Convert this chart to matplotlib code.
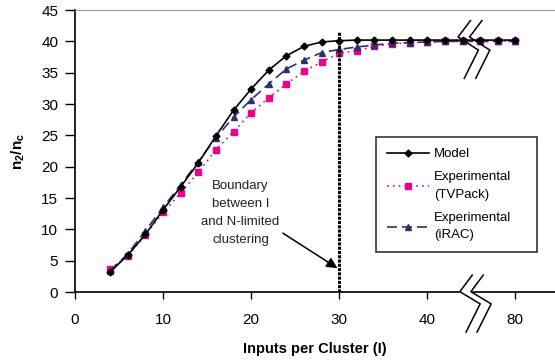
import numpy as np
import matplotlib
matplotlib.use("Agg")
import matplotlib.pyplot as plt

plt.rcParams["font.family"] = ["Liberation Sans", "DejaVu Sans"]
plt.rcParams["mathtext.default"] = "regular"

# data (inputs per cluster, n2/nc)
inputs = [4, 6, 8, 10, 12, 14, 16, 18, 20, 22, 24, 26, 28, 30, 32, 34, 36, 38, 40, 42, 44, 76, 78, 80]
model = [3.2, 5.9, 9.2, 13.1, 16.8, 20.6, 24.9, 29.0, 32.4, 35.4, 37.7, 39.2, 39.9, 40.1,
         40.2, 40.2, 40.2, 40.2, 40.2, 40.2, 40.2, 40.2, 40.2, 40.2]
tvpack = [3.6, 5.8, 9.1, 12.7, 15.8, 19.1, 22.7, 25.6, 28.6, 31.0, 33.2, 35.2, 36.7, 38.1,
          38.5, 39.2, 39.6, 39.8, 39.9, 40.0, 40.0, 40.0, 40.0, 40.0]
irac = [3.4, 6.1, 9.8, 13.5, 17.1, 20.8, 24.6, 27.9, 30.7, 33.2, 35.6, 37.0, 38.2, 38.7,
        39.1, 39.4, 39.7, 39.8, 39.9, 40.0, 40.0, 40.0, 40.0, 40.0]
xtick_labels = ["0", "10", "20", "30", "40", "80"]
xtick_values = [0, 10, 20, 30, 40, 80]

# broken axis: everything above the gap is shifted left by 30
GAP = 30
def squash(v):
    v = np.asarray(v, dtype=float)
    return np.where(v > 60, v - GAP, v)

xs = squash(inputs)

fig = plt.figure(figsize=(5.55, 3.63), dpi=100)
ax = fig.add_axes([75 / 555, 71 / 363, 480 / 555, 282 / 363])

ax.plot(xs, model, color="black", lw=1.2, marker="D", ms=3.5, label="Model", zorder=4)
ax.plot(xs, tvpack, color="#ec008c", lw=1.2, ls=(0, (1, 2.5)), marker="s", ms=4.5,
        label="Experimental\n(TVPack)", zorder=3)
ax.plot(xs, irac, color="#2e3070", lw=1.2, ls=(0, (6, 3)), marker="^", ms=5,
        label="Experimental\n(iRAC)", zorder=3)

# boundary line
ax.plot([30, 30], [0, 41.5], color="black", lw=2.2, ls=(0, (1, 0.4)), zorder=5)

ax.set_xlim(0, 54.5)
ax.set_ylim(0, 45)
ax.set_xticks(squash(xtick_values))
ax.set_xticklabels(xtick_labels)
ax.set_yticks(range(0, 50, 5))
ax.tick_params(axis="x", direction="out", length=5, width=1, pad=10, labelsize=11)
ax.tick_params(axis="y", direction="out", length=7, width=1, pad=5, labelsize=11)

ax.spines["right"].set_visible(False)
ax.spines["top"].set_color("#999999")
ax.spines["left"].set_linewidth(1.2)
ax.spines["bottom"].set_linewidth(1.2)

ax.set_xlabel("Inputs per Cluster (I)", fontsize=10.5, fontweight="bold", labelpad=11)
ax.set_ylabel("n$_2$/n$_c$", fontsize=11, fontweight="bold", labelpad=10)

# break marks on the curves
zig_top = np.array([[44.9, 43.3], [43.5, 40.7], [45.8, 38.6], [44.2, 34.1]])
for dx in (0, 1.3):
    ax.plot(zig_top[:, 0] + dx, zig_top[:, 1], color="black", lw=1.1, zorder=6,
            solid_joinstyle="miter")

# break marks on the x axis
zig_ax = np.array([[45.1, 2.7], [43.7, 0.05], [46.0, -1.9], [44.4, -6.4]])
gap_poly = np.vstack([zig_ax, (zig_ax + [1.25, 0])[::-1]])
ax.fill(gap_poly[:, 0], gap_poly[:, 1], color="white", clip_on=False, zorder=6)
for dx in (0, 1.25):
    ax.plot(zig_ax[:, 0] + dx, zig_ax[:, 1], color="black", lw=1.1, clip_on=False,
            zorder=7, solid_joinstyle="miter")

# annotation
ax.annotate("Boundary\nbetween I\nand N-limited\nclustering", xy=(29.8, 3.8),
            xytext=(18.8, 12.6), ha="center", va="center", fontsize=9.5,
            linespacing=1.7, color="#222222",
            arrowprops=dict(arrowstyle="-|>", color="black", lw=1.1,
                            mutation_scale=16, shrinkA=0, shrinkB=0,
                            relpos=(1.04, 0.2)))

leg = ax.legend(loc="upper left", bbox_to_anchor=(0.627, 0.448, 0.335, 0.1), mode="expand",
                fontsize=9.5, frameon=True, fancybox=False, edgecolor="#333333",
                framealpha=1, handlelength=3.2, labelspacing=0.85, borderpad=0.8,
                handletextpad=0.4, borderaxespad=0)
leg.get_frame().set_linewidth(1.2)
for t in leg.get_texts():
    t.set_linespacing(1.6)

fig.savefig("out.png", dpi=100)
